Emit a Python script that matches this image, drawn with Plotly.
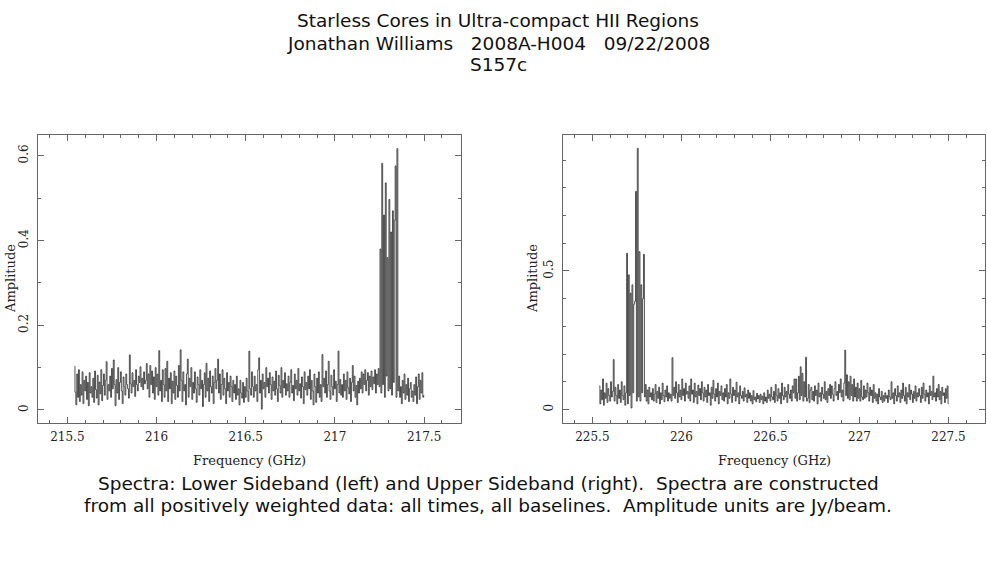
import numpy as np
import plotly.graph_objects as go

# channel grid of both sidebands (GHz)
lsb_start = 215.540
usb_start = 225.540
chan_width = 0.005

# Lower sideband amplitudes (Jy/beam), one row per 0.1 GHz
lsb_amp = [
    0.103, 0.042, 0.012, 0.085, 0.030, 0.095, 0.020, 0.060, 0.035, 0.090, 0.015, 0.070, 0.045, 0.080, 0.025, 0.065, 0.010, 0.088, 0.040, 0.055,
    0.030, 0.075, 0.018, 0.092, 0.048, 0.028, 0.082, 0.012, 0.066, 0.038, 0.095, 0.022, 0.058, 0.085, 0.035, 0.070, 0.114, 0.025, 0.060, 0.045,
    0.080, 0.030, 0.098, 0.050, 0.118, 0.060, 0.010, 0.072, 0.040, 0.100, 0.025, 0.065, 0.090, 0.045, 0.015, 0.078, 0.055, 0.035, 0.085, 0.060,
    0.050, 0.028, 0.130, 0.062, 0.040, 0.088, 0.055, 0.070, 0.032, 0.095, 0.060, 0.045, 0.080, 0.065, 0.102, 0.055, 0.075, 0.048, 0.090, 0.062,
    0.070, 0.110, 0.050, 0.085, 0.030, 0.105, 0.060, 0.092, 0.040, 0.078, 0.025, 0.100, 0.055, 0.085, 0.035, 0.140, 0.045, 0.070, 0.020, 0.095,
    0.060, 0.030, 0.098, 0.045, 0.115, 0.020, 0.075, 0.050, 0.088, 0.015, 0.068, 0.040, 0.092, 0.025, 0.080, 0.058, 0.030, 0.105, 0.045, 0.142,
    0.070, 0.020, 0.090, 0.045, 0.060, 0.012, 0.085, 0.120, 0.030, 0.075, 0.055, 0.100, 0.025, 0.065, 0.040, 0.090, 0.050, 0.018, 0.078, 0.060,
    0.035, 0.095, 0.050, 0.070, 0.008, 0.060, 0.088, 0.030, 0.110, 0.045, 0.075, 0.020, 0.092, 0.055, 0.040, 0.080, 0.015, 0.065, 0.098, 0.050,
    0.070, 0.120, 0.040, 0.085, 0.025, 0.060, 0.095, 0.035, 0.075, 0.050, 0.015, 0.088, 0.045, 0.065, 0.030, 0.080, 0.055, 0.020, 0.070, 0.040,
    0.060, 0.025, 0.080, 0.035, 0.050, 0.012, 0.070, 0.040, 0.028, 0.065, 0.018, 0.055, 0.030, 0.075, 0.045, 0.020, 0.139, 0.050, 0.035, 0.090,
    0.055, 0.030, 0.080, 0.045, 0.060, 0.020, 0.095, 0.123, 0.040, 0.070, 0.002, 0.085, 0.050, 0.065, 0.030, 0.100, 0.055, 0.075, 0.040, 0.088,
    0.060, 0.025, 0.078, 0.045, 0.068, 0.035, 0.092, 0.050, 0.020, 0.082, 0.058, 0.040, 0.100, 0.030, 0.070, 0.052, 0.088, 0.035, 0.062, 0.045,
    0.080, 0.030, 0.065, 0.095, 0.040, 0.058, 0.022, 0.085, 0.050, 0.070, 0.035, 0.098, 0.045, 0.062, 0.028, 0.078, 0.055, 0.015, 0.090, 0.048,
    0.065, 0.035, 0.080, 0.050, 0.095, 0.025, 0.070, 0.045, 0.012, 0.085, 0.055, 0.018, 0.075, 0.040, 0.090, 0.030, 0.060, 0.020, 0.131, 0.055,
    0.075, 0.040, 0.092, 0.030, 0.060, 0.115, 0.045, 0.025, 0.082, 0.055, 0.035, 0.095, 0.050, 0.068, 0.020, 0.060, 0.139, 0.040, 0.072, 0.035,
    0.060, 0.030, 0.085, 0.045, 0.070, 0.025, 0.090, 0.052, 0.038, 0.075, 0.020, 0.065, 0.105, 0.045, 0.080, 0.030, 0.058, 0.012, 0.068, 0.040,
    0.075, 0.050, 0.090, 0.040, 0.085, 0.060, 0.095, 0.045, 0.070, 0.088, 0.035, 0.080, 0.055, 0.092, 0.048, 0.078, 0.062, 0.095, 0.040, 0.085,
    0.060, 0.098, 0.055, 0.380, 0.040, 0.582, 0.060, 0.460, 0.030, 0.536, 0.080, 0.360, 0.045, 0.497, 0.050, 0.420, 0.035, 0.470, 0.065, 0.448,
    0.576, 0.030, 0.617, 0.045, 0.080, 0.030, 0.055, 0.015, 0.070, 0.040, 0.085, 0.025, 0.060, 0.035, 0.075, 0.020, 0.050, 0.065, 0.030, 0.045,
    0.020, 0.060, 0.035, 0.078, 0.015, 0.055, 0.085, 0.025, 0.070, 0.040, 0.088, 0.030, 0.035,
]

# Upper sideband amplitudes (Jy/beam)
usb_amp = [
    0.085, 0.020, 0.070, 0.035, 0.110, 0.015, 0.060, 0.040, 0.095, 0.025, 0.075, 0.050, 0.030, 0.100, 0.045, 0.065, 0.180, 0.030, 0.080, 0.050,
    0.020, 0.090, 0.040, 0.070, 0.025, 0.100, 0.050, 0.035, 0.085, 0.015, 0.060, 0.564, 0.020, 0.486, 0.050, 0.420, 0.005, 0.450, 0.060, 0.380,
    0.390, 0.787, 0.030, 0.943, 0.045, 0.570, 0.030, 0.450, 0.060, 0.400, 0.560, 0.045, 0.090, 0.030, 0.070, 0.020, 0.080, 0.045, 0.060, 0.035,
    0.075, 0.030, 0.055, 0.090, 0.025, 0.065, 0.040, 0.080, 0.020, 0.060, 0.035, 0.095, 0.050, 0.028, 0.070, 0.045, 0.085, 0.030, 0.060, 0.040,
    0.055, 0.030, 0.187, 0.050, 0.080, 0.040, 0.100, 0.060, 0.025, 0.090, 0.045, 0.070, 0.035, 0.110, 0.050, 0.075, 0.030, 0.095, 0.055, 0.065,
    0.040, 0.085, 0.030, 0.110, 0.055, 0.070, 0.025, 0.095, 0.045, 0.065, 0.020, 0.088, 0.050, 0.075, 0.035, 0.100, 0.060, 0.030, 0.080, 0.045,
    0.070, 0.025, 0.090, 0.050, 0.060, 0.015, 0.080, 0.040, 0.105, 0.055, 0.030, 0.075, 0.045, 0.095, 0.020, 0.065, 0.050, 0.085, 0.035, 0.060,
    0.030, 0.075, 0.045, 0.090, 0.020, 0.060, 0.040, 0.110, 0.055, 0.025, 0.080, 0.050, 0.070, 0.030, 0.098, 0.045, 0.060, 0.020, 0.085, 0.050,
    0.040, 0.065, 0.030, 0.078, 0.045, 0.055, 0.025, 0.070, 0.040, 0.060, 0.030, 0.050, 0.020, 0.068, 0.035, 0.045, 0.028, 0.058, 0.038, 0.050,
    0.025, 0.055, 0.035, 0.048, 0.020, 0.060, 0.030, 0.045, 0.025, 0.070, 0.040, 0.055, 0.030, 0.080, 0.045, 0.035, 0.065, 0.025, 0.090, 0.050,
    0.030, 0.075, 0.040, 0.060, 0.020, 0.095, 0.050, 0.035, 0.080, 0.045, 0.065, 0.025, 0.090, 0.055, 0.040, 0.070, 0.030, 0.085, 0.060, 0.110,
    0.040, 0.110, 0.030, 0.060, 0.120, 0.035, 0.154, 0.050, 0.130, 0.030, 0.100, 0.045, 0.188, 0.030, 0.040, 0.090, 0.025, 0.070, 0.080, 0.035,
    0.065, 0.030, 0.085, 0.050, 0.070, 0.020, 0.095, 0.045, 0.060, 0.030, 0.080, 0.055, 0.040, 0.100, 0.035, 0.065, 0.025, 0.075, 0.050, 0.090,
    0.040, 0.085, 0.055, 0.030, 0.075, 0.100, 0.050, 0.065, 0.035, 0.090, 0.060, 0.110, 0.045, 0.070, 0.030, 0.095, 0.214, 0.050, 0.125, 0.040,
    0.100, 0.035, 0.120, 0.050, 0.090, 0.030, 0.110, 0.045, 0.080, 0.030, 0.095, 0.040, 0.075, 0.030, 0.105, 0.045, 0.035, 0.085, 0.040, 0.070,
    0.045, 0.095, 0.060, 0.030, 0.080, 0.050, 0.070, 0.025, 0.090, 0.040, 0.060, 0.030, 0.055, 0.020, 0.075, 0.045, 0.035, 0.065, 0.025, 0.050,
    0.030, 0.060, 0.040, 0.050, 0.025, 0.070, 0.045, 0.035, 0.100, 0.040, 0.060, 0.020, 0.075, 0.050, 0.030, 0.085, 0.045, 0.060, 0.025, 0.070,
    0.040, 0.095, 0.050, 0.030, 0.080, 0.020, 0.060, 0.045, 0.090, 0.035, 0.070, 0.055, 0.025, 0.065, 0.040, 0.085, 0.030, 0.060, 0.045, 0.075,
    0.050, 0.025, 0.080, 0.040, 0.095, 0.055, 0.030, 0.070, 0.045, 0.060, 0.020, 0.085, 0.050, 0.065, 0.035, 0.120, 0.045, 0.060, 0.030, 0.075,
    0.045, 0.090, 0.035, 0.065, 0.020, 0.080, 0.050, 0.060, 0.025, 0.075, 0.040, 0.085, 0.020,
]

lsb_ticks = [215.5, 216, 216.5, 217, 217.5]
lsb_ticktext = ["215.5", "216", "216.5", "217", "217.5"]
usb_ticks = [225.5, 226, 226.5, 227, 227.5]
usb_ticktext = ["225.5", "226", "226.5", "227", "227.5"]
lsb_yticks = [0, 0.2, 0.4, 0.6]
usb_yticks = [0, 0.5]

title_lines = [
    "Starless Cores in Ultra-compact HII Regions",
    "Jonathan Williams\u00a0\u00a0 2008A-H004\u00a0\u00a0 09/22/2008",
    "S157c",
]
caption_lines = [
    "Spectra: Lower Sideband (left) and Upper Sideband (right).\u00a0 Spectra are constructed",
    "from all positively weighted data: all times, all baselines.\u00a0 Amplitude units are Jy/beam.",
]

W, H = 987, 567
lsb_freq = np.round(lsb_start + chan_width * np.arange(len(lsb_amp)), 4)
usb_freq = np.round(usb_start + chan_width * np.arange(len(usb_amp)), 4)

line_style = dict(color="#1e1e1e", width=0.75, shape="hvh")
fig = go.Figure()
fig.add_trace(go.Scatter(x=lsb_freq, y=lsb_amp, mode="lines", line=line_style,
                         xaxis="x", yaxis="y", hoverinfo="skip"))
fig.add_trace(go.Scatter(x=usb_freq, y=usb_amp, mode="lines", line=line_style,
                         xaxis="x2", yaxis="y2", hoverinfo="skip"))

tick_font = dict(family="DejaVu Serif", size=12, color="#222")
frame = dict(
    showline=True, linecolor="#666", linewidth=1, mirror="allticks",
    ticks="inside", ticklen=6, tickcolor="#666", tickwidth=1,
    showgrid=False, zeroline=False, automargin=False, tickfont=tick_font,
    minor=dict(ticks="inside", ticklen=3, tickcolor="#666", dtick=0.1, showgrid=False),
)


def px_x(v):
    return v / W


def px_y(v):
    return 1 - v / H


y_dom = [px_y(422.7), px_y(135)]
fig.update_layout(
    width=W, height=H, autosize=False,
    margin=dict(l=0, r=0, t=0, b=0),
    paper_bgcolor="white", plot_bgcolor="white",
    showlegend=False,
    xaxis=dict(frame, domain=[px_x(38.3), px_x(460.7)], range=[215.337, 217.705],
               tickvals=lsb_ticks, ticktext=lsb_ticktext, anchor="y",
               minor=dict(frame["minor"], tick0=215.5), ticklabelstandoff=3),
    yaxis=dict(frame, domain=y_dom, range=[-0.030, 0.649], tickvals=lsb_yticks,
               ticktext=["0", "0.2", "0.4", "0.6"], tickangle=-90, anchor="x",
               minor=dict(frame["minor"], tick0=0), ticklabelstandoff=5),
    xaxis2=dict(frame, domain=[px_x(563.3), px_x(985)], range=[225.337, 227.705],
                tickvals=usb_ticks, ticktext=usb_ticktext, anchor="y2",
                minor=dict(frame["minor"], tick0=225.5), ticklabelstandoff=3),
    yaxis2=dict(frame, domain=y_dom, range=[-0.048, 0.991], tickvals=usb_yticks,
                ticktext=["0", "0.5"], tickangle=-90, anchor="x2",
                minor=dict(frame["minor"], tick0=0), ticklabelstandoff=5),
)

text_font = dict(family="DejaVu Sans", size=18.5, color="#111")
label_font = dict(family="DejaVu Serif", size=13, color="#222")
annotations = []
for line, y in zip(title_lines, [20, 43, 65]):
    annotations.append(dict(text=line, x=px_x(498), y=px_y(y), font=text_font))
for line, y in zip(caption_lines, [483, 505]):
    annotations.append(dict(text=line, x=px_x(488), y=px_y(y), font=text_font))
for x in [249, 774]:
    annotations.append(dict(text="Frequency (GHz)", x=px_x(x), y=px_y(460), font=label_font))
for x in [10, 532]:
    annotations.append(dict(text="Amplitude", x=px_x(x), y=px_y(279), font=label_font,
                            textangle=-90))
for a in annotations:
    a.update(xref="paper", yref="paper", showarrow=False,
             xanchor="center", yanchor="middle")
fig.update_layout(annotations=annotations)

fig.write_html("out.html", config={"displayModeBar": False},
               post_script="document.body.style.margin='0px';")
